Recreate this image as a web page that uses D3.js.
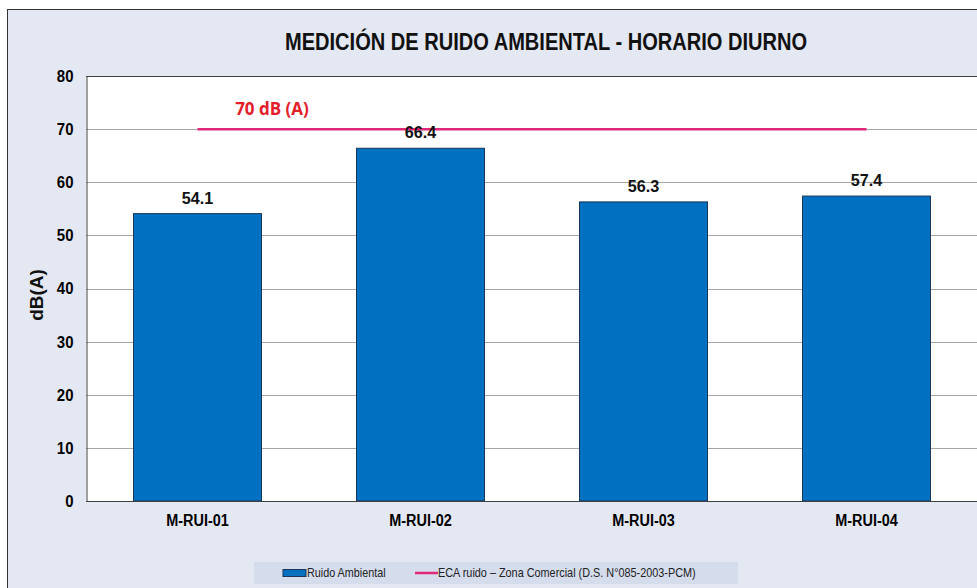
<!DOCTYPE html>
<html>
<head>
<meta charset="utf-8">
<script src="https://cdn.jsdelivr.net/npm/d3@7"></script>
<style>
  body { margin: 0; background: #fff; }
  svg { display: block; }
</style>
</head>
<body>
<svg width="977" height="588"></svg>
<script>
var svg = d3.select("svg");

// data
var estaciones = ["M-RUI-01", "M-RUI-02", "M-RUI-03", "M-RUI-04"];
var ruido = [54.1, 66.4, 56.3, 57.4];
var eca = [70, 70, 70, 70];
var yTicks = [0, 10, 20, 30, 40, 50, 60, 70, 80];

var sans = "'Liberation Sans', Arial, sans-serif";

// squeeze text horizontally to look like Arial Narrow
var condense = function(sel, sx){
  sel.each(function(){
    var t = d3.select(this);
    var tx = +t.attr("x") || 0;
    t.attr("x", 0).attr("transform", "translate(" + tx + ",0) scale(" + sx + ",1)");
  });
}

// chart background
svg.append("rect")
   .attr("x", 7.5).attr("y", 9.5)
   .attr("width", 980).attr("height", 590)
   .attr("fill", "#e4e8f3")
   .attr("stroke", "#333").attr("stroke-width", 1);

var pLeft = 86, pRight = 978, pTop = 76, pBottom = 501;

var x = d3.scaleBand()
          .domain(estaciones)
          .range([pLeft, pRight])
          .paddingInner(0.426)
          .paddingOuter(0.213);

var y = d3.scaleLinear().domain([0, 80]).range([pBottom, pTop]);

// plot area
svg.append("rect")
   .attr("x", pLeft).attr("y", pTop)
   .attr("width", pRight - pLeft).attr("height", pBottom - pTop)
   .attr("fill", "#fff");

// gridlines
svg.append("g")
   .selectAll("line")
   .data(yTicks.filter(function(d){ return d > 0 && d < 80; }))
   .enter().append("line")
   .attr("x1", pLeft).attr("x2", pRight)
   .attr("y1", function(d){ return Math.round(y(d)) + 0.5; })
   .attr("y2", function(d){ return Math.round(y(d)) + 0.5; })
   .attr("stroke", "#a6a6a6").attr("stroke-width", 1);

// top border of plot
svg.append("line").attr("x1", pLeft).attr("x2", pRight)
   .attr("y1", pTop + 0.5).attr("y2", pTop + 0.5).attr("stroke", "#404040");

// y axis
var yAxis = d3.axisLeft(y).tickValues(yTicks).tickSize(0).tickPadding(13);
var gy = svg.append("g").attr("transform", "translate(" + (pLeft + 0.5) + ",0)").call(yAxis);
gy.select(".domain").attr("stroke", "#404040");
gy.selectAll("text")
  .attr("font-family", sans).attr("font-weight", "bold")
  .attr("font-size", 17).attr("fill", "#000")
  .call(condense, 0.88);

// bars
svg.append("g")
   .selectAll("rect")
   .data(ruido)
   .enter().append("rect")
   .attr("x", function(d, i){ return x(estaciones[i]); })
   .attr("y", function(d){ return y(d); })
   .attr("width", x.bandwidth())
   .attr("height", function(d){ return pBottom - y(d); })
   .attr("fill", "#0070c0")
   .attr("stroke", "#1d3557").attr("stroke-width", 1);

// x axis
var xAxis = d3.axisBottom(x).tickSize(0).tickPadding(12);
var gx = svg.append("g").attr("transform", "translate(0," + (pBottom + 0.5) + ")").call(xAxis);
gx.select(".domain").attr("stroke", "#404040").attr("d", "M" + pLeft + ",0H" + pRight);
gx.selectAll("text")
  .attr("font-family", sans).attr("font-weight", "bold")
  .attr("font-size", 17).attr("fill", "#000")
  .call(condense, 0.85);

// ECA line
var line = d3.line()
             .x(function(d, i){ return x(estaciones[i]) + x.bandwidth() / 2; })
             .y(function(d){ return y(d); });
svg.append("path")
   .datum(eca)
   .attr("d", line)
   .attr("fill", "none")
   .attr("stroke", "#e0287a").attr("stroke-width", 2.5);

// value labels
svg.append("g")
   .selectAll("text")
   .data(ruido)
   .enter().append("text")
   .attr("x", function(d, i){ return x(estaciones[i]) + x.bandwidth() / 2; })
   .attr("y", function(d){ return y(d) - 10; })
   .attr("text-anchor", "middle")
   .attr("font-family", sans).attr("font-weight", "bold")
   .attr("font-size", 17).attr("fill", "#111")
   .text(function(d){ return d.toFixed(1); })
   .call(condense, 0.95);

// ECA label
svg.append("text")
   .attr("x", 272).attr("y", y(70) - 14)
   .attr("text-anchor", "middle")
   .attr("font-family", "'Open Sans', Lato, sans-serif").attr("font-weight", "bold")
   .attr("font-size", 17).attr("fill", "#e3202a")
   .text("70 dB (A)");

// title
svg.append("text")
   .attr("x", 546).attr("y", 50)
   .attr("text-anchor", "middle")
   .attr("font-family", sans).attr("font-weight", "bold")
   .attr("font-size", 23).attr("fill", "#111")
   .attr("textLength", 522).attr("lengthAdjust", "spacingAndGlyphs")
   .text("MEDICIÓN DE RUIDO AMBIENTAL - HORARIO DIURNO");

// y label
svg.append("text")
   .attr("transform", "translate(43,295) rotate(-90)")
   .attr("text-anchor", "middle")
   .attr("font-family", sans).attr("font-weight", "bold")
   .attr("font-size", 19).attr("fill", "#111")
   .text("dB(A)");

// legend
var lg = svg.append("g");
lg.append("rect")
  .attr("x", 254).attr("y", 562).attr("width", 484).attr("height", 22)
  .attr("fill", "#d5dcec");
lg.append("rect")
  .attr("x", 283).attr("y", 569.5).attr("width", 23).attr("height", 7)
  .attr("fill", "#0070c0").attr("stroke", "#1d3557");
lg.append("text")
  .attr("x", 307).attr("y", 577)
  .attr("font-family", sans).attr("font-size", 12).attr("fill", "#222")
  .text("Ruido Ambiental")
  .call(condense, 0.9);
lg.append("line")
  .attr("x1", 415).attr("x2", 438).attr("y1", 573).attr("y2", 573)
  .attr("stroke", "#e0287a").attr("stroke-width", 2.5);
lg.append("text")
  .attr("x", 438).attr("y", 577)
  .attr("font-family", sans).attr("font-size", 12).attr("fill", "#222")
  .text("ECA ruido – Zona Comercial (D.S. N°085-2003-PCM)")
  .call(condense, 0.905);
</script>
</body>
</html>
